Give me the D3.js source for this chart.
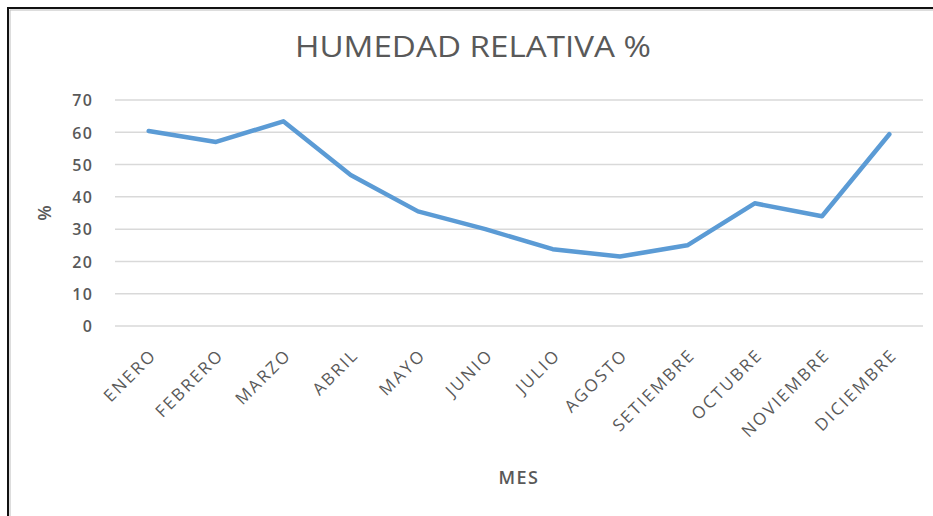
<!DOCTYPE html>
<html>
<head>
<meta charset="utf-8">
<script src="https://cdn.jsdelivr.net/npm/d3@7"></script>
<style>
  body { margin: 0; background: #fff; }
  text { font-family: "Open Sans", "Liberation Sans", sans-serif; fill: #595959; }
</style>
</head>
<body>
<div id="chart"></div>
<script>
// months and humidity values
var months = ["ENERO", "FEBRERO", "MARZO", "ABRIL", "MAYO", "JUNIO", "JULIO",
              "AGOSTO", "SETIEMBRE", "OCTUBRE", "NOVIEMBRE", "DICIEMBRE"];
var humidity = [60.4, 57.0, 63.4, 46.8, 35.5, 30.0, 23.8, 21.5, 25.0, 38.0, 34.0, 59.4];
var yTicks = [0, 10, 20, 30, 40, 50, 60, 70];

var width = 933;
var height = 516;
var plotLeft = 115, plotRight = 923, plotTop = 100, plotBottom = 326;

var svg = d3.select("#chart")
            .append("svg")
            .attr("width", width)
            .attr("height", height);

// outer frame (only top and left visible in the picture)
svg.append("path")
   .attr("d", "M8,516 V8 H933")
   .attr("fill", "none")
   .attr("stroke", "#111")
   .attr("stroke-width", 2);
svg.append("path")
   .attr("d", "M10,516 V10 H933")
   .attr("fill", "none")
   .attr("stroke", "#bbb")
   .attr("stroke-width", 1);

var xScale = d3.scaleBand()
               .domain(months)
               .range([plotLeft, plotRight]);

var yScale = d3.scaleLinear()
               .domain([0, 70])
               .range([plotBottom, plotTop]);

// gridlines
svg.append("g")
   .selectAll("line")
   .data(yTicks)
   .enter()
   .append("line")
   .attr("x1", plotLeft)
   .attr("x2", plotRight)
   .attr("y1", d => yScale(d))
   .attr("y2", d => yScale(d))
   .attr("stroke", "#d9d9d9")
   .attr("stroke-width", 1.5);

// y axis labels
var yAxis = d3.axisLeft(yScale).tickValues(yTicks).tickSize(0).tickPadding(0);
var yG = svg.append("g")
   .attr("transform", "translate(93,0)")
   .call(yAxis);
yG.select(".domain").remove();
yG.selectAll("text")
  .attr("font-size", 16)
  .attr("font-weight", 600)
  .attr("letter-spacing", 1.2)
  .attr("fill", "#595959")
  .attr("dy", "0.36em");

// x axis labels, rotated
var xAxis = d3.axisBottom(xScale).tickSize(0).tickPadding(0);
var xG = svg.append("g")
   .attr("transform", `translate(0,${plotBottom})`)
   .call(xAxis);
xG.select(".domain").remove();
xG.selectAll("text")
  .attr("font-size", 17)
  .attr("letter-spacing", 2.2)
  .attr("fill", "#595959")
  .attr("text-anchor", "end")
  .attr("dy", 0)
  .attr("y", 0)
  .attr("transform", "translate(9,30) rotate(-45)");

// the line
var line = d3.line()
             .x((d, i) => xScale(months[i]) + xScale.bandwidth() / 2)
             .y(d => yScale(d));

svg.append("path")
   .datum(humidity)
   .attr("d", line)
   .attr("fill", "none")
   .attr("stroke", "#5b9bd5")
   .attr("stroke-width", 4.5)
   .attr("stroke-linejoin", "round")
   .attr("stroke-linecap", "round");

// title
svg.append("text")
   .attr("x", 473)
   .attr("y", 57)
   .attr("text-anchor", "middle")
   .attr("font-size", 29)
   .attr("textLength", 356)
   .attr("lengthAdjust", "spacingAndGlyphs")
   .text("HUMEDAD RELATIVA %");

// axis titles
svg.append("text")
   .attr("transform", "translate(51,213) rotate(-90)")
   .attr("text-anchor", "middle")
   .attr("font-size", 18)
   .attr("font-weight", 600)
   .text("%");

svg.append("text")
   .attr("x", (plotLeft + plotRight) / 2)
   .attr("y", 484)
   .attr("text-anchor", "middle")
   .attr("font-size", 18)
   .attr("font-weight", 600)
   .attr("letter-spacing", 1.5)
   .text("MES");
</script>
</body>
</html>
